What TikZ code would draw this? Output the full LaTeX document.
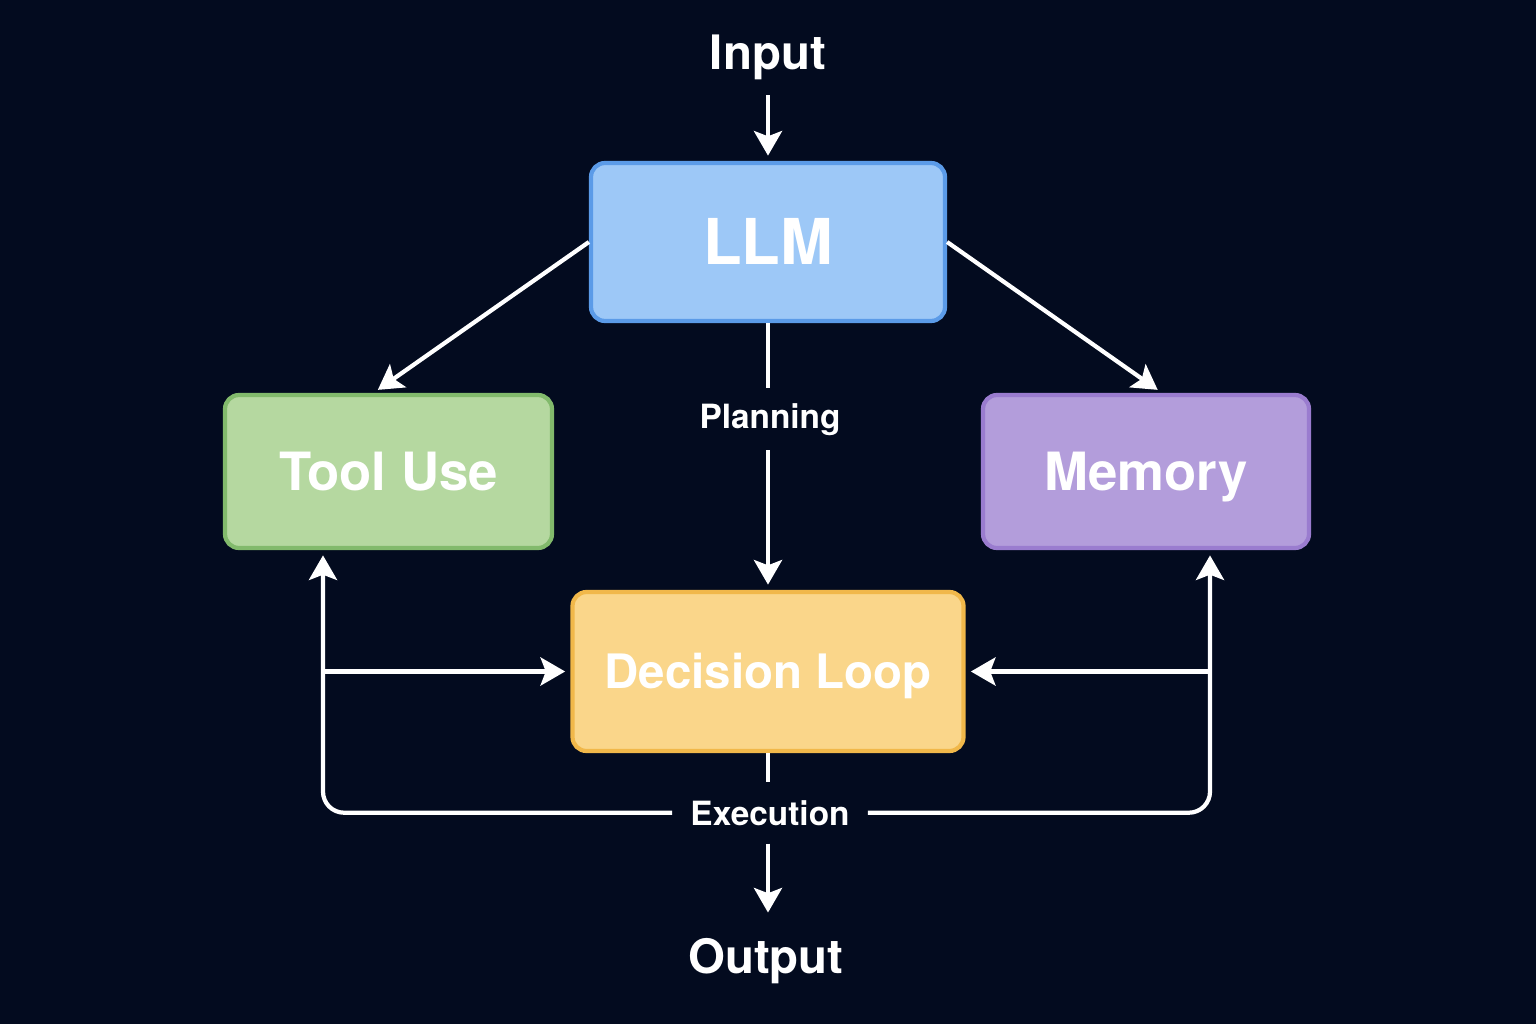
\documentclass[tikz,border=0pt]{standalone}
\usepackage{fontspec}
\setmainfont{TeX Gyre Heros}
\usetikzlibrary{arrows.meta}
\definecolor{bg}{HTML}{030B1F}
\definecolor{llmfill}{HTML}{9DC8F7}
\definecolor{llmline}{HTML}{5B9BE8}
\definecolor{toolfill}{HTML}{B5D8A0}
\definecolor{toolline}{HTML}{82BA6C}
\definecolor{memfill}{HTML}{B39DDB}
\definecolor{memline}{HTML}{9A7CCF}
\definecolor{decfill}{HTML}{FAD68A}
\definecolor{decline}{HTML}{F1B84A}

\begin{document}
\begin{tikzpicture}[font=\bfseries,
  box/.style={draw=#1line, fill=#1fill, line width=1.2pt, rounded corners=4pt, text=white, inner sep=0pt},
  boxt/.style={font=\fontsize{#1}{#1}\selectfont\bfseries, text height=0.72*#1pt, text depth=0pt},
  txt/.style={font=\fontsize{#1}{#1}\selectfont\bfseries, text=white},
  lab/.style={txt=9.5, fill=bg, inner sep=5pt, anchor=base},
  ends/.style={txt=13.5, inner sep=4pt, anchor=base},
  flow/.style={-{Stealth[length=7pt, width=8pt, inset=1.5pt]}, line width=1.2pt, draw=white, shorten >=1.5pt},
  wire/.style={line width=1.2pt, draw=white}]

% ---- background and margins
\fill[bg] (0,0) rectangle (15.36,10.24);
\useasboundingbox (0,0) rectangle (15.36,10.24);

% ---- boxes
\node[box=llm, boxt=18, minimum width=3.54cm, minimum height=1.58cm] (llm) at (7.68,7.82) {LLM};
\node[box=tool, boxt=15, minimum width=3.27cm, minimum height=1.53cm] (tool) at (3.885,5.525) {Tool Use};
\node[box=mem, boxt=15, minimum width=3.26cm, minimum height=1.53cm] (mem) at (11.46,5.525) {Memory};
\node[box=dec, boxt=13.5, minimum width=3.91cm, minimum height=1.59cm] (dec) at (7.68,3.525) {Decision Loop};

% ---- texts
\node[ends] (input) at (7.68,9.54) {Input};
\node[ends] (output) at (7.66,0.51) {Output};
\node[lab, inner ysep=4pt] (plan) at (7.70,5.96) {Planning};
\node[lab] (exec) at (7.70,1.99) {Execution};
\coordinate (bl) at (3.23,0);
\coordinate (br) at (12.10,0);

% ---- flows
\draw[flow] (input) -- (input |- llm.north);
\draw[flow] (llm.west) -- ([xshift=-0.15cm]tool.north);
\draw[flow] (llm.east) -- ([xshift=0.16cm]mem.north);
\draw[wire] (llm.south) -- (llm.south |- plan.north);
\draw[flow] (llm.south |- plan.south) -- (dec.north);
\draw[wire] (dec.south) -- (dec.south |- exec.north);
\draw[flow, shorten >=3pt] (dec.south |- exec.south) -- (dec.south |- output.north);
\draw[flow, rounded corners=6pt] (exec.west) -| (bl |- tool.south);
\draw[flow, rounded corners=6pt] (exec.east) -| (br |- mem.south);
\draw[flow] (bl |- dec.west) -- (dec.west);
\draw[flow] (br |- dec.east) -- (dec.east);
\end{tikzpicture}
\end{document}
